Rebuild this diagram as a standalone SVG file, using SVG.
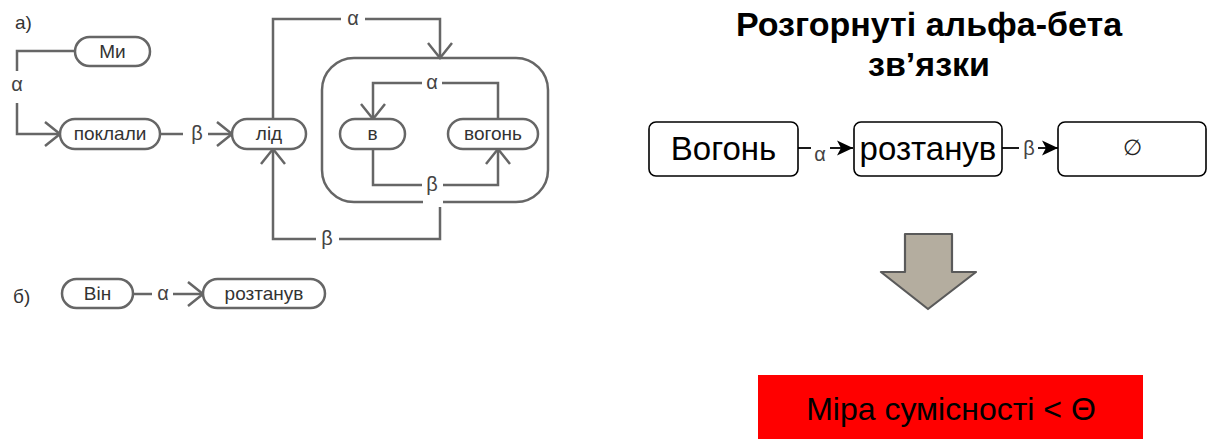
<svg xmlns="http://www.w3.org/2000/svg" width="1208" height="439" viewBox="0 0 1208 439">
  <style>
    .ln { fill: none; stroke: #666; stroke-width: 2.5; }
    .pill { fill: #fff; stroke: #666; stroke-width: 2.5; }
    .pt { font-family: "Liberation Sans", Arial, sans-serif; font-size: 19px; fill: #333; text-anchor: middle; }
    .gl { font-family: "Liberation Sans", Arial, sans-serif; font-size: 20px; fill: #444; text-anchor: middle; }
    .tag { font-family: "Liberation Sans", Arial, sans-serif; font-size: 19px; fill: #333; }
    .box { fill: #fff; stroke: #000; stroke-width: 1.6; }
    .bt { font-family: "Liberation Sans", Arial, sans-serif; font-size: 33px; fill: #000; text-anchor: middle; }
    .cl { fill: none; stroke: #000; stroke-width: 1.8; }
    .cg { font-family: "Liberation Sans", Arial, sans-serif; font-size: 20px; fill: #444; text-anchor: middle; }
  </style>
  <defs>
    <marker id="open" viewBox="-20 -15 24 30" markerWidth="24" markerHeight="30" refX="0" refY="0" markerUnits="userSpaceOnUse" orient="auto">
      <path d="M-15,-12 L0,0 L-15,12" fill="none" stroke="#666" stroke-width="2.5"/>
    </marker>
    <marker id="solid" viewBox="-18 -9 20 18" markerWidth="20" markerHeight="18" refX="0" refY="0" markerUnits="userSpaceOnUse" orient="auto">
      <path d="M-16,-7.5 L0,0 L-16,7.5 L-12,0 Z" fill="#000"/>
    </marker>
  </defs>

  <!-- panel a: sentence graph -->
  <text class="tag" x="15" y="29">а)</text>
  <text class="tag" x="13" y="303">б)</text>

  <g id="connectors">
    <!-- Ми -> поклали (alpha) -->
    <path class="ln" d="M75,51 H17 V71"/>
    <text class="gl" x="17" y="91">α</text>
    <path class="ln" d="M17,103 V134 H60" marker-end="url(#open)"/>
    <!-- поклали -> лід (beta) -->
    <path class="ln" d="M160,134 H183"/>
    <text class="gl" x="197" y="140">β</text>
    <path class="ln" d="M208,134 H232" marker-end="url(#open)"/>
    <!-- лід -> group (alpha) -->
    <path class="ln" d="M273,119 V19 H341"/>
    <text class="gl" x="353" y="25">α</text>
    <path class="ln" d="M365,19 H440 V58" marker-end="url(#open)"/>
    <!-- вогонь -> в (alpha) -->
    <path class="ln" d="M498,119 V83 H442"/>
    <text class="gl" x="432" y="89">α</text>
    <path class="ln" d="M422,83 H373 V119" marker-end="url(#open)"/>
    <!-- в -> вогонь (beta) -->
    <path class="ln" d="M373,149 V185 H422"/>
    <text class="gl" x="432" y="191">β</text>
    <path class="ln" d="M443,185 H498 V149" marker-end="url(#open)"/>
    <!-- group -> лід (beta) -->
    <path class="ln" d="M440,207 V239 H339"/>
    <text class="gl" x="327" y="245">β</text>
    <path class="ln" d="M316,239 H273 V149" marker-end="url(#open)"/>
    <!-- Він -> розтанув (alpha) -->
    <path class="ln" d="M133,294 H152"/>
    <text class="gl" x="163" y="300">α</text>
    <path class="ln" d="M173,294 H203" marker-end="url(#open)"/>

    <!-- right chain -->
    <path class="cl" d="M798,148 H811"/>
    <text class="cg" x="820" y="161">α</text>
    <path class="cl" d="M830,148 H853" marker-end="url(#solid)"/>
    <path class="cl" d="M1002,148 H1019"/>
    <text class="cg" x="1029" y="155">β</text>
    <path class="cl" d="M1038,148 H1058" marker-end="url(#solid)"/>
  </g>

  <g id="node-my">
    <rect class="pill" x="75" y="37" width="75" height="29" rx="14.5"/>
    <text class="pt" x="112.5" y="58">Ми</text>
  </g>
  <g id="node-poklaly">
    <rect class="pill" x="60" y="119" width="100" height="30" rx="15"/>
    <text class="pt" x="110" y="140">поклали</text>
  </g>
  <g id="node-lid">
    <rect class="pill" x="232" y="119" width="74" height="30" rx="15"/>
    <text class="pt" x="269" y="140">лід</text>
  </g>
  <g id="group-v-vogon">
    <path class="ln" d="M443,202 H516 A32,32 0 0 0 548,170 V90 A32,32 0 0 0 516,58 H354 A32,32 0 0 0 322,90 V170 A32,32 0 0 0 354,202 H423"/>
  </g>
  <g id="node-v">
    <rect class="pill" x="340" y="119" width="65" height="30" rx="15"/>
    <text class="pt" x="372.5" y="140">в</text>
  </g>
  <g id="node-vogon">
    <rect class="pill" x="448" y="119" width="90" height="30" rx="15"/>
    <text class="pt" x="493" y="140">вогонь</text>
  </g>
  <g id="node-vin">
    <rect class="pill" x="62" y="279" width="71" height="29" rx="14.5"/>
    <text class="pt" x="97.5" y="300">Він</text>
  </g>
  <g id="node-roztanuv-b">
    <rect class="pill" x="203" y="279" width="122" height="29" rx="14.5"/>
    <text class="pt" x="264" y="300">розтанув</text>
  </g>

  <!-- right panel -->
  <g id="title">
    <text font-family="Liberation Sans, Arial, sans-serif" font-weight="bold" font-size="34" text-anchor="middle" x="929" y="36">Розгорнуті альфа-бета</text>
    <text font-family="Liberation Sans, Arial, sans-serif" font-weight="bold" font-size="34" text-anchor="middle" x="929" y="76">зв’язки</text>
  </g>
  <g id="box-vogon">
    <rect class="box" x="649" y="122" width="149" height="54" rx="7"/>
    <text class="bt" x="723.5" y="160">Вогонь</text>
  </g>
  <g id="box-roztanuv">
    <rect class="box" x="854" y="122" width="148" height="54" rx="7"/>
    <text class="bt" x="928" y="160">розтанув</text>
  </g>
  <g id="box-empty">
    <rect class="box" x="1058" y="122" width="148" height="54" rx="7"/>
    <text font-family="Liberation Sans, Arial, sans-serif" font-size="22" fill="#222" text-anchor="middle" x="1132" y="155">∅</text>
  </g>
  <g id="down-arrow">
    <polygon points="905,234 952,234 952,272 976,272 928,309 881,272 905,272" fill="#b4ad9f" stroke="#5a5a5a" stroke-width="2.2" stroke-linejoin="round"/>
  </g>
  <g id="result">
    <rect x="758" y="375" width="385" height="70" fill="#ff0000"/>
    <text font-family="Liberation Sans, Arial, sans-serif" font-size="32" fill="#000" text-anchor="middle" x="951" y="420">Міра сумісності &lt; Θ</text>
  </g>
</svg>
